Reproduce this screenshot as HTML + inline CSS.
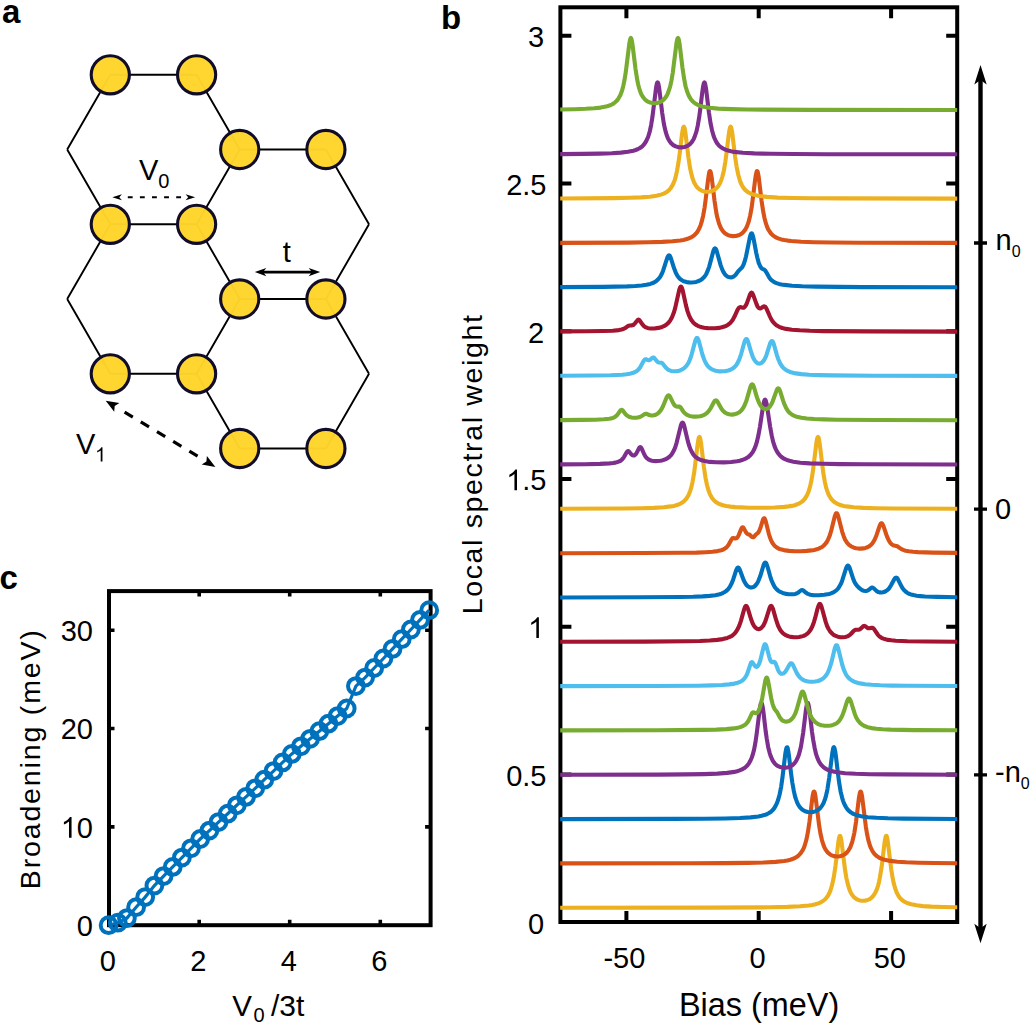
<!DOCTYPE html>
<html><head><meta charset="utf-8"><title>figure</title>
<style>html,body{margin:0;padding:0;background:#fff;}body{width:1031px;height:1024px;overflow:hidden;}svg{display:block;}</style>
</head><body>
<svg width="1031" height="1024" viewBox="0 0 1031 1024">
<rect width="100%" height="100%" fill="#fff"/>
<g font-family='"Liberation Sans", sans-serif'>
<path d="M110.3,74.8 L196.6,74.8 M196.6,74.8 L239.7,149.5 M110.3,74.8 L67.2,149.5 M67.2,149.5 L110.3,224.3 M239.7,149.5 L196.6,224.3 M239.7,149.5 L325.9,149.5 M325.9,149.5 L369.0,224.3 M369.0,224.3 L325.9,299.0 M110.3,224.3 L196.6,224.3 M196.6,224.3 L239.7,299.0 M110.3,224.3 L67.2,299.0 M67.2,299.0 L110.3,373.8 M239.7,299.0 L325.9,299.0 M239.7,299.0 L196.6,373.8 M325.9,299.0 L369.0,373.8 M369.0,373.8 L325.9,448.5 M110.3,373.8 L196.6,373.8 M196.6,373.8 L239.7,448.5 M239.7,448.5 L325.9,448.5" stroke="#000" stroke-width="1.9" fill="none"/>
<circle cx="110.3" cy="74.8" r="19.1" fill="#FFD52A" fill-opacity="0.975" stroke="#110d28" stroke-width="3.1"/>
<circle cx="196.6" cy="74.8" r="19.1" fill="#FFD52A" fill-opacity="0.975" stroke="#110d28" stroke-width="3.1"/>
<circle cx="239.7" cy="149.5" r="19.1" fill="#FFD52A" fill-opacity="0.975" stroke="#110d28" stroke-width="3.1"/>
<circle cx="325.9" cy="149.5" r="19.1" fill="#FFD52A" fill-opacity="0.975" stroke="#110d28" stroke-width="3.1"/>
<circle cx="110.3" cy="224.3" r="19.1" fill="#FFD52A" fill-opacity="0.975" stroke="#110d28" stroke-width="3.1"/>
<circle cx="196.6" cy="224.3" r="19.1" fill="#FFD52A" fill-opacity="0.975" stroke="#110d28" stroke-width="3.1"/>
<circle cx="239.7" cy="299.0" r="19.1" fill="#FFD52A" fill-opacity="0.975" stroke="#110d28" stroke-width="3.1"/>
<circle cx="325.9" cy="299.0" r="19.1" fill="#FFD52A" fill-opacity="0.975" stroke="#110d28" stroke-width="3.1"/>
<circle cx="110.3" cy="373.8" r="19.1" fill="#FFD52A" fill-opacity="0.975" stroke="#110d28" stroke-width="3.1"/>
<circle cx="196.6" cy="373.8" r="19.1" fill="#FFD52A" fill-opacity="0.975" stroke="#110d28" stroke-width="3.1"/>
<circle cx="239.7" cy="448.5" r="19.1" fill="#FFD52A" fill-opacity="0.975" stroke="#110d28" stroke-width="3.1"/>
<circle cx="325.9" cy="448.5" r="19.1" fill="#FFD52A" fill-opacity="0.975" stroke="#110d28" stroke-width="3.1"/>
<path d="M126.5,197.3 H183" stroke="#000" stroke-width="2.1" stroke-dasharray="4.85,7.25" stroke-dashoffset="-1.3" fill="none"/>
<path d="M112.3,197.3 L121.9,194.3 L119.3,197.3 L121.9,200.3 z" fill="#000"/>
<path d="M195.2,197.3 L185.6,200.3 L188.2,197.3 L185.6,194.3 z" fill="#000"/>
<path d="M262,272.1 H313" stroke="#000" stroke-width="2.9" fill="none"/>
<path d="M254.8,272.1 L266.3,267.9 L263.1,272.1 L266.3,276.3 z" fill="#000"/>
<path d="M320.2,272.1 L308.7,276.3 L311.9,272.1 L308.7,267.9 z" fill="#000"/>
<path d="M124.6,412.1 L197.6,456.1" stroke="#000" stroke-width="3.2" stroke-dasharray="9.6,9.3" fill="none"/>
<path d="M105.7,400.7 L119.4,403.1 L114.7,406.1 L114.2,411.7 z" fill="#000"/>
<path d="M215.4,466.9 L201.7,464.5 L206.4,461.5 L206.9,455.9 z" fill="#000"/>
<text x="2.0" y="23.0" font-size="33.0" font-weight="bold">a</text>
<text x="139.0" y="179.8" font-size="29.0" >V<tspan font-size="20" dy="8.4">0</tspan></text>
<text x="282.7" y="262.0" font-size="29.0" >t</text>
<text x="76.0" y="453.5" font-size="29.0" >V</text>
<path transform="translate(95.00,461.60) scale(20.000,-20.000)" d="M0.373,0 H0.285 V0.561 C0.264,0.541 0.236,0.521 0.201,0.500 C0.167,0.480 0.136,0.465 0.109,0.454 V0.539 C0.158,0.562 0.201,0.590 0.238,0.623 C0.275,0.656 0.301,0.687 0.317,0.716 H0.373 Z" fill="#000"/>
<rect x="560.4" y="7.3" width="396.8" height="914.7" fill="none" stroke="#000" stroke-width="4"/>
<path d="M560.4,774.5 h11 M957.2,774.5 h-11 M560.4,626.7 h11 M957.2,626.7 h-11 M560.4,479.0 h11 M957.2,479.0 h-11 M560.4,331.2 h11 M957.2,331.2 h-11 M560.4,183.5 h11 M957.2,183.5 h-11 M560.4,35.7 h11 M957.2,35.7 h-11 M626.4,922.0 v-11 M626.4,7.3 v11 M758.7,922.0 v-11 M758.7,7.3 v11 M891.1,922.0 v-11 M891.1,7.3 v11" stroke="#000" stroke-width="4" fill="none"/>
<path d="M560.2,907.8 707.3,907.6 769.6,907.3 787.4,906.9 799.9,906.3 808.9,905.5 812.4,904.9 815.5,904.2 818.3,903.4 820.8,902.3 823.0,901.0 824.9,899.5 826.6,897.6 828.1,895.5 829.4,893.0 830.6,890.0 832.3,884.2 833.9,876.5 835.5,865.8 838.4,841.7 839.2,837.4 839.6,836.2 840.0,835.8 840.2,836.0 840.6,836.9 841.4,840.7 845.1,870.2 846.4,878.1 847.8,884.1 849.5,889.6 850.4,891.8 851.3,893.6 852.4,895.2 853.6,896.7 854.9,897.9 856.2,898.9 857.6,899.6 858.9,900.1 860.3,900.5 861.8,900.7 863.4,900.7 864.8,900.6 866.3,900.4 867.8,899.9 869.1,899.4 870.3,898.7 872.4,896.9 874.2,894.6 875.8,891.8 877.0,888.9 878.1,885.6 879.0,881.9 879.9,877.4 881.7,866.4 884.7,841.6 885.5,837.3 885.9,836.2 886.3,835.8 886.6,836.0 886.9,836.9 887.7,840.9 891.3,869.7 892.5,877.2 893.7,883.1 895.2,888.5 896.9,893.0 898.7,896.3 899.8,897.8 901.0,899.1 902.3,900.3 903.8,901.3 905.3,902.2 907.1,903.0 911.2,904.3 916.5,905.3 922.9,906.1 931.4,906.6 942.5,907.0 957.2,907.3" fill="none" stroke="#EDB120" stroke-width="4.1" stroke-linejoin="round"/>
<path d="M560.2,863.4 690.9,863.3 724.7,863.1 747.6,862.9 764.0,862.5 775.6,861.9 784.1,861.0 787.4,860.4 790.3,859.7 793.1,858.8 795.5,857.6 797.5,856.4 799.3,854.8 800.9,852.9 802.4,850.7 803.6,848.4 804.8,845.3 806.5,839.3 807.9,832.2 809.5,821.5 812.4,797.4 813.2,793.1 813.6,791.9 814.0,791.5 814.3,791.6 814.7,792.5 815.5,796.4 819.2,825.9 820.5,833.8 822.0,840.3 823.7,845.6 824.7,848.0 825.8,849.9 827.0,851.6 828.3,853.0 829.8,854.2 831.2,855.1 833.9,856.1 836.8,856.5 838.4,856.5 839.8,856.3 842.6,855.5 845.0,854.1 847.0,852.4 848.7,850.1 850.3,847.2 851.3,844.6 852.4,841.3 853.3,837.6 854.3,833.1 856.0,822.1 859.0,797.3 859.8,793.0 860.2,791.9 860.6,791.5 860.9,791.7 861.3,792.6 862.1,796.5 865.8,826.3 867.1,834.3 868.4,840.4 870.1,846.1 871.1,848.4 872.0,850.2 873.2,852.2 874.4,853.8 875.7,855.2 877.2,856.4 878.7,857.4 880.6,858.4 882.6,859.2 884.8,859.8 890.3,860.9 897.3,861.7 906.3,862.3 918.3,862.7 934.6,863.0 957.2,863.2" fill="none" stroke="#D95319" stroke-width="4.1" stroke-linejoin="round"/>
<path d="M560.2,819.1 674.3,818.9 704.4,818.8 725.1,818.5 740.0,818.0 750.6,817.4 758.4,816.5 761.6,815.8 764.3,815.1 766.8,814.2 769.0,813.0 771.0,811.7 772.7,810.1 774.3,808.1 775.6,805.9 776.8,803.4 777.9,800.6 779.6,794.5 781.1,787.1 782.5,777.1 785.4,753.1 786.2,748.8 786.6,747.6 787.0,747.2 787.3,747.3 787.7,748.2 788.3,751.3 789.1,756.9 791.1,773.7 792.3,782.5 793.8,790.9 795.2,797.0 796.2,799.9 797.1,802.3 798.1,804.5 799.2,806.2 800.5,807.9 801.8,809.2 803.3,810.3 805.0,811.2 807.7,812.0 810.6,812.2 813.5,811.9 816.1,811.1 818.4,809.7 820.4,807.9 822.1,805.6 823.6,802.9 824.6,800.3 825.7,797.0 826.6,793.3 827.5,788.8 829.2,777.8 832.3,753.0 833.1,748.7 833.5,747.5 833.9,747.2 834.1,747.3 834.5,748.3 835.2,751.4 836.0,757.0 838.0,774.0 839.2,782.9 840.6,791.4 842.1,797.6 843.0,800.6 843.9,803.1 845.0,805.4 846.1,807.3 847.2,809.0 848.7,810.6 850.3,812.0 852.0,813.1 853.9,814.1 856.0,814.9 858.4,815.6 861.1,816.2 867.8,817.2 876.5,817.8 888.0,818.3 903.9,818.6 957.2,819.0" fill="none" stroke="#0072BD" stroke-width="4.1" stroke-linejoin="round"/>
<path d="M560.2,774.8 658.8,774.6 685.4,774.4 703.9,774.1 717.4,773.6 727.1,772.9 730.9,772.4 734.2,771.9 737.1,771.2 739.6,770.4 742.0,769.4 744.0,768.3 745.9,766.9 747.5,765.3 748.9,763.4 750.2,761.1 751.4,758.5 752.5,755.5 754.1,749.6 755.4,742.7 756.8,732.8 759.8,708.8 760.6,704.4 760.9,703.3 761.3,702.8 761.6,703.0 762.0,703.9 762.7,707.0 763.5,712.6 765.7,731.4 766.8,739.0 768.2,747.2 769.7,753.1 770.6,755.9 771.7,758.5 772.7,760.6 773.9,762.4 775.2,764.0 776.6,765.2 778.2,766.2 779.9,767.0 782.5,767.6 785.3,767.8 788.1,767.3 790.6,766.4 792.7,765.0 794.6,763.1 796.2,760.8 797.6,757.9 798.7,755.2 799.7,751.6 800.7,747.8 801.4,743.8 803.2,732.5 806.1,708.6 806.9,704.4 807.3,703.2 807.7,702.8 807.9,703.0 808.3,704.0 809.0,707.1 809.8,712.7 812.0,731.8 813.1,739.4 814.6,747.7 816.1,754.2 817.1,757.1 818.1,759.7 819.3,762.1 820.5,763.9 821.8,765.6 823.4,767.1 825.1,768.4 827.1,769.5 829.2,770.4 831.6,771.1 834.4,771.8 837.4,772.3 845.1,773.2 855.6,773.8 869.6,774.2 889.1,774.4 957.2,774.7" fill="none" stroke="#7E2F8E" stroke-width="4.1" stroke-linejoin="round"/>
<path d="M560.2,730.4 656.4,730.3 702.5,729.9 716.3,729.6 726.4,729.1 733.7,728.4 739.0,727.4 741.4,726.7 743.3,725.8 745.1,724.7 746.5,723.4 747.6,722.1 748.5,720.6 749.6,718.5 751.6,714.0 752.1,713.1 752.6,712.5 753.0,712.3 753.5,712.3 755.4,713.2 756.3,713.3 756.8,713.1 757.4,712.7 758.4,711.2 759.8,708.1 760.9,703.9 762.3,697.7 765.2,681.1 766.0,678.3 766.4,677.7 766.6,677.5 766.9,677.6 767.3,678.3 768.0,680.4 771.5,699.8 772.6,704.1 773.7,707.2 774.7,709.3 777.2,712.4 779.5,716.8 780.7,718.6 781.5,719.6 782.4,720.4 783.4,721.0 784.5,721.4 785.7,721.6 787.0,721.6 788.3,721.3 789.5,720.8 790.7,720.0 791.8,719.0 792.8,717.8 793.8,716.4 795.4,713.3 796.8,709.3 801.1,693.9 801.8,692.1 802.2,691.7 802.6,691.5 803.0,691.7 803.4,692.2 804.2,694.1 808.5,709.9 809.9,714.0 811.5,717.4 813.4,720.1 814.4,721.3 815.6,722.4 816.9,723.3 818.3,724.1 819.8,724.7 821.4,725.2 823.8,725.6 826.2,725.8 828.7,725.8 831.1,725.5 833.1,724.9 834.9,724.2 836.7,723.2 838.1,722.0 839.2,720.8 840.2,719.4 842.1,716.1 843.9,711.3 847.2,700.9 848.2,699.0 848.6,698.6 849.0,698.5 849.4,698.7 849.8,699.1 850.6,700.6 854.8,713.9 856.2,717.4 857.8,720.2 859.7,722.6 861.9,724.5 864.4,726.0 867.6,727.2 871.5,728.1 876.4,728.7 882.6,729.2 890.5,729.6 914.5,730.1 957.2,730.3" fill="none" stroke="#77AC30" stroke-width="4.1" stroke-linejoin="round"/>
<path d="M560.2,686.1 653.0,686.0 698.1,685.7 711.8,685.4 721.8,685.0 729.2,684.4 734.6,683.6 737.9,682.7 740.6,681.6 742.7,680.2 744.5,678.4 745.9,676.4 747.1,674.0 748.1,671.2 750.4,664.3 751.0,662.8 751.6,662.2 752.1,662.1 752.6,662.5 754.7,665.7 755.8,666.7 756.3,666.9 756.8,666.8 757.4,666.5 757.9,665.9 759.0,664.0 760.2,660.7 763.7,646.5 764.4,644.8 764.8,644.3 765.1,644.2 765.3,644.3 765.7,644.7 766.4,646.2 769.2,656.7 769.9,659.1 770.6,660.7 771.3,661.7 771.9,662.2 772.6,662.3 774.2,661.8 774.6,662.0 775.0,662.4 775.8,663.9 778.2,670.3 779.1,671.9 780.0,673.0 781.1,673.7 782.1,673.8 783.2,673.6 784.2,672.8 785.2,671.9 786.2,670.4 789.7,664.3 790.6,663.3 791.0,663.2 791.4,663.2 792.1,663.7 792.8,664.7 796.8,673.1 798.0,675.1 799.3,676.8 800.9,678.4 802.6,679.6 804.6,680.6 807.0,681.3 809.7,681.7 812.4,681.7 815.2,681.5 817.9,681.0 820.1,680.2 822.1,679.1 823.8,677.9 825.4,676.2 826.6,674.6 827.7,672.8 829.5,668.5 831.4,662.4 834.8,648.3 835.7,645.9 836.1,645.4 836.5,645.2 836.9,645.4 837.3,645.9 838.1,647.9 842.3,665.0 843.9,669.9 845.5,673.4 846.4,675.1 847.5,676.6 848.6,677.8 849.8,679.0 851.1,680.0 852.5,680.9 855.8,682.3 859.9,683.4 865.1,684.2 871.7,684.8 880.5,685.3 891.8,685.6 907.2,685.8 957.2,686.0" fill="none" stroke="#4DBEEE" stroke-width="4.1" stroke-linejoin="round"/>
<path d="M560.2,641.8 644.3,641.6 686.7,641.3 699.9,641.0 709.7,640.5 717.1,639.9 722.8,639.1 727.3,637.9 729.2,637.2 730.9,636.4 732.5,635.4 733.8,634.3 735.0,633.1 736.2,631.5 737.9,628.6 739.4,625.3 741.0,620.6 744.3,608.7 745.2,606.6 745.6,606.1 746.0,605.9 746.4,606.0 746.8,606.4 747.7,608.2 751.0,619.0 752.7,623.5 753.7,625.3 754.6,626.7 755.5,627.7 756.6,628.5 757.4,628.9 758.2,629.1 759.1,629.1 759.9,628.8 760.7,628.4 761.5,627.8 763.1,625.9 764.4,623.5 765.6,620.6 769.6,607.9 770.3,606.4 770.7,606.0 771.1,605.9 771.5,606.1 771.9,606.6 772.9,608.6 776.2,620.2 778.0,625.5 779.9,629.3 780.9,630.9 782.0,632.2 783.4,633.6 785.2,634.8 787.0,635.7 789.0,636.4 791.4,636.9 793.9,637.2 796.6,637.2 799.2,637.0 801.2,636.6 802.9,636.1 804.5,635.5 805.9,634.7 807.3,633.7 808.5,632.6 809.5,631.3 810.6,629.8 812.3,626.5 813.9,622.2 815.1,618.2 817.3,609.4 818.3,606.3 819.1,604.5 819.4,604.0 819.8,603.9 820.2,604.0 820.6,604.5 821.4,606.3 825.7,621.9 827.1,626.0 828.6,629.0 830.4,631.8 832.6,634.0 833.7,634.9 835.1,635.6 837.8,636.7 840.4,637.2 842.9,637.3 845.3,637.0 847.4,636.4 848.8,635.7 850.2,634.7 851.3,633.5 853.6,631.0 854.7,630.1 855.8,629.7 858.2,629.8 859.4,629.5 860.6,628.7 863.0,626.4 863.7,626.0 864.3,625.9 865.2,626.2 867.4,627.8 868.4,628.3 869.5,628.3 871.7,627.7 872.3,627.7 872.8,627.9 873.4,628.4 874.1,629.2 877.7,634.5 878.7,635.7 879.9,636.7 881.5,637.8 883.4,638.6 885.5,639.3 888.1,639.9 891.4,640.3 895.7,640.7 907.5,641.2 926.4,641.5 957.2,641.7" fill="none" stroke="#A2142F" stroke-width="4.1" stroke-linejoin="round"/>
<path d="M560.2,597.5 639.8,597.3 680.3,597.0 693.1,596.8 702.6,596.4 709.7,595.9 715.3,595.2 719.7,594.2 721.5,593.6 723.2,592.8 724.7,592.0 726.0,591.1 727.2,590.1 728.4,588.8 730.1,586.3 731.6,583.5 733.2,579.4 736.2,570.2 737.1,568.3 737.5,567.8 737.9,567.6 738.3,567.6 738.7,567.8 739.6,569.3 743.7,580.2 745.1,582.9 746.5,585.0 747.3,585.8 748.2,586.5 749.2,587.0 750.2,587.4 751.2,587.5 752.2,587.4 753.1,587.1 754.1,586.6 755.3,585.6 756.3,584.4 757.4,582.8 758.3,581.1 760.2,576.3 763.6,565.0 764.5,563.1 764.9,562.7 765.3,562.6 766.0,563.0 766.8,564.6 767.7,567.3 770.2,576.3 771.4,580.0 773.0,583.8 774.7,586.9 775.8,588.3 776.8,589.4 778.2,590.6 779.5,591.5 780.9,592.2 782.7,592.9 786.4,593.9 788.7,594.2 791.1,594.3 793.2,594.3 795.1,593.9 796.3,593.6 797.5,593.0 798.7,592.2 800.8,590.5 801.4,590.2 802.0,590.1 802.5,590.1 803.2,590.4 806.1,592.8 807.9,593.9 810.3,594.7 813.2,595.1 818.7,595.2 824.3,594.8 829.0,594.0 831.0,593.4 832.7,592.7 834.8,591.5 836.7,590.0 838.4,588.1 839.8,585.8 841.2,583.2 842.3,580.2 846.3,567.7 847.1,566.1 847.5,565.7 847.9,565.6 848.3,565.7 848.7,566.1 849.5,567.5 853.3,579.1 854.5,581.9 855.7,584.1 857.2,586.1 859.2,588.0 861.7,589.8 863.8,590.8 865.5,591.0 867.2,590.7 868.7,589.9 871.2,587.9 871.7,587.6 872.3,587.6 872.8,587.7 873.4,588.1 876.6,591.1 878.5,592.1 879.9,592.4 881.4,592.5 883.0,592.3 884.6,591.8 885.8,591.2 886.9,590.4 888.0,589.5 889.1,588.3 890.9,585.5 894.4,579.0 895.3,577.9 896.1,577.6 896.9,577.9 897.7,578.9 901.6,586.7 902.8,588.5 904.0,590.1 905.5,591.5 907.1,592.7 908.9,593.7 910.9,594.4 913.5,595.1 916.6,595.7 920.3,596.1 924.9,596.5 937.5,596.9 957.2,597.2" fill="none" stroke="#0072BD" stroke-width="4.1" stroke-linejoin="round"/>
<path d="M560.2,553.2 642.8,553.0 684.1,552.8 696.6,552.6 705.8,552.2 712.5,551.8 717.5,551.1 720.3,550.6 722.6,549.8 724.4,548.9 726.0,547.8 727.2,546.6 728.3,545.2 731.3,539.7 732.0,538.8 732.5,538.2 732.9,538.0 733.4,538.0 735.1,538.4 735.8,538.4 736.5,538.2 737.0,537.8 737.8,536.9 738.6,535.4 741.4,528.6 741.9,527.8 742.4,527.3 743.0,527.3 743.6,527.9 746.0,532.4 747.1,533.7 747.8,534.2 749.2,534.5 749.7,534.7 751.7,536.7 752.3,537.1 753.1,537.3 753.9,536.9 756.3,534.2 758.2,532.6 759.1,531.2 760.4,528.0 762.9,519.8 763.6,518.6 764.1,518.2 764.4,518.3 764.8,518.8 765.6,520.7 768.9,534.0 769.8,537.0 770.9,539.8 772.1,542.3 773.4,544.3 774.8,546.0 776.6,547.4 778.9,548.7 781.7,549.6 785.2,550.4 789.3,550.9 794.8,551.2 800.9,551.2 806.6,550.9 811.5,550.4 814.3,549.9 816.7,549.3 818.8,548.6 820.6,547.7 822.4,546.7 823.8,545.5 825.1,544.1 826.5,542.4 828.2,539.3 829.8,535.4 831.5,529.6 834.8,516.3 835.7,513.9 836.1,513.4 836.5,513.2 836.9,513.4 837.3,513.9 838.1,515.8 842.2,531.8 843.7,536.2 845.1,539.6 847.0,542.6 849.0,544.8 850.2,545.7 851.3,546.5 854.0,547.7 856.2,548.2 858.6,548.6 861.0,548.6 863.4,548.4 865.5,547.9 867.4,547.3 869.1,546.4 870.7,545.2 871.7,544.1 872.8,542.8 874.6,539.7 876.5,535.2 879.8,525.5 880.7,523.7 881.1,523.4 881.5,523.2 881.9,523.4 882.3,523.8 883.1,525.2 884.0,527.6 886.3,534.5 887.5,537.7 888.9,540.7 890.5,543.1 891.7,544.3 892.9,545.1 894.1,545.6 896.3,546.0 897.3,546.3 901.0,548.9 903.1,549.9 905.6,550.7 908.8,551.3 912.9,551.8 918.0,552.1 933.0,552.6 957.2,552.9" fill="none" stroke="#D95319" stroke-width="4.1" stroke-linejoin="round"/>
<path d="M560.2,508.8 623.6,508.5 641.4,508.3 654.1,507.9 663.7,507.3 670.8,506.4 673.7,505.9 676.2,505.3 678.5,504.5 680.5,503.6 682.3,502.5 684.1,501.2 685.5,499.7 686.8,498.0 688.0,496.0 689.1,493.8 690.1,491.1 691.1,488.2 692.5,482.1 694.0,473.7 695.0,466.0 697.3,446.8 698.1,441.2 698.7,438.0 699.1,437.1 699.4,436.9 699.8,437.3 700.2,438.5 701.0,442.8 703.9,467.0 705.5,477.8 707.0,485.0 708.7,491.1 709.9,494.1 711.1,496.4 712.5,498.7 714.1,500.5 716.0,502.1 717.9,503.3 720.2,504.3 722.8,505.2 726.3,506.0 730.4,506.6 735.3,507.1 741.2,507.4 748.9,507.7 757.8,507.8 766.8,507.7 774.7,507.5 784.5,506.9 788.5,506.4 791.8,505.9 794.7,505.2 797.2,504.3 799.3,503.4 801.3,502.1 802.8,501.0 804.1,499.6 805.3,498.1 806.5,496.2 807.5,494.1 808.5,491.8 810.2,486.1 811.5,480.0 812.8,471.9 816.5,442.0 817.3,438.0 817.7,437.1 818.0,436.9 818.3,437.1 818.7,438.0 819.3,441.2 820.1,446.8 822.4,466.0 823.4,473.7 824.9,482.1 826.3,488.2 827.3,491.1 828.3,493.8 829.4,496.0 830.6,498.0 831.9,499.7 833.3,501.2 835.1,502.5 836.9,503.6 838.9,504.5 841.2,505.3 843.7,505.9 846.6,506.4 853.7,507.3 863.3,507.9 876.0,508.3 893.8,508.5 957.2,508.8" fill="none" stroke="#EDB120" stroke-width="4.1" stroke-linejoin="round"/>
<path d="M560.2,464.4 584.9,464.2 600.1,463.9 609.5,463.4 612.9,463.0 615.5,462.6 617.5,462.0 619.2,461.4 620.7,460.6 622.0,459.5 623.0,458.4 624.0,457.1 626.7,452.2 627.3,451.5 627.8,451.1 628.3,451.1 629.0,451.5 631.2,454.2 632.4,455.2 633.1,455.4 633.6,455.5 634.3,455.4 634.8,455.1 635.7,454.2 636.5,453.1 639.3,447.8 639.8,447.3 640.2,447.1 640.9,447.4 641.6,448.4 644.1,454.0 645.5,456.6 647.1,458.4 649.0,459.7 650.3,460.3 651.9,460.7 653.7,461.0 655.7,461.1 657.8,461.0 660.1,460.8 662.2,460.4 664.1,459.8 665.7,459.2 667.1,458.4 668.4,457.6 669.6,456.6 670.8,455.4 671.9,454.0 673.7,450.8 675.2,447.4 676.6,442.8 680.9,425.3 681.7,423.3 682.1,422.8 682.5,422.6 682.9,422.8 683.3,423.3 684.2,425.8 687.9,441.4 689.1,445.5 690.4,449.1 691.9,452.1 693.6,454.8 695.4,456.8 697.6,458.4 699.0,459.2 700.7,460.0 704.7,461.1 709.7,461.9 716.0,462.3 723.8,462.4 731.2,462.0 737.1,461.3 739.8,460.7 742.0,460.1 744.4,459.2 746.5,458.1 748.4,456.9 750.1,455.4 751.6,453.7 752.9,451.8 754.1,449.6 755.3,446.8 757.0,441.5 758.4,435.3 760.0,426.5 763.3,404.6 764.3,400.7 764.7,399.9 765.1,399.6 765.4,399.9 765.8,400.7 766.8,404.6 770.1,426.6 771.7,435.4 773.1,441.6 774.7,446.6 775.9,449.4 777.1,451.7 778.4,453.7 779.9,455.4 781.6,457.0 783.4,458.3 785.6,459.4 787.9,460.3 790.5,461.1 793.4,461.7 800.4,462.7 809.8,463.4 822.8,463.8 840.2,464.1 865.2,464.3 957.2,464.5" fill="none" stroke="#7E2F8E" stroke-width="4.1" stroke-linejoin="round"/>
<path d="M560.2,420.1 582.1,419.9 595.6,419.7 604.0,419.3 609.4,418.8 612.9,417.9 614.3,417.3 615.5,416.5 616.6,415.6 617.5,414.6 620.4,410.5 621.1,409.9 621.6,409.8 622.1,409.9 622.8,410.5 625.4,414.0 627.0,415.6 629.0,416.8 631.5,417.5 633.4,417.8 635.3,417.8 637.2,417.6 638.9,417.3 641.2,416.4 644.5,414.2 645.7,413.8 646.7,413.9 649.2,415.0 650.6,415.4 652.2,415.5 653.9,415.3 655.7,414.7 657.5,413.7 659.0,412.4 660.5,410.7 661.8,408.6 663.0,406.3 666.8,397.0 667.8,395.7 668.2,395.4 668.6,395.3 669.2,395.6 670.0,396.6 673.2,403.1 674.1,404.6 674.9,405.6 675.6,406.1 676.4,406.5 677.2,406.6 678.9,406.5 679.4,406.6 680.0,406.9 681.0,408.0 683.5,411.8 685.0,413.4 687.0,414.9 689.5,415.9 691.3,416.3 693.5,416.6 695.7,416.6 698.0,416.5 700.1,416.2 701.9,415.7 703.6,415.1 705.1,414.4 707.1,412.9 708.9,410.9 710.8,408.0 714.1,401.7 715.0,400.6 715.8,400.3 716.6,400.6 717.4,401.4 721.6,408.9 723.2,411.0 724.8,412.4 726.8,413.6 729.1,414.3 731.6,414.6 734.2,414.4 737.0,413.5 739.4,412.2 741.5,410.2 743.3,407.7 744.8,404.8 746.3,401.1 750.5,386.6 751.3,384.9 751.7,384.5 752.1,384.3 752.5,384.4 752.9,384.8 753.8,386.7 757.1,397.8 759.0,402.7 759.9,404.5 760.8,405.9 761.9,407.2 762.9,408.1 763.7,408.5 764.7,408.9 765.6,409.0 766.5,408.9 767.4,408.5 768.2,408.1 769.2,407.3 769.9,406.4 771.4,404.1 772.7,401.3 776.7,390.1 777.6,388.6 778.0,388.3 778.4,388.3 778.8,388.6 779.2,389.1 780.1,391.1 783.2,400.9 784.8,405.2 786.2,408.2 787.9,410.9 789.1,412.3 790.3,413.4 791.7,414.4 793.2,415.3 795.0,416.1 796.8,416.7 801.3,417.8 806.9,418.5 814.2,419.0 823.8,419.4 836.7,419.7 877.4,420.0 957.2,420.2" fill="none" stroke="#77AC30" stroke-width="4.1" stroke-linejoin="round"/>
<path d="M560.2,375.7 591.5,375.5 610.6,375.2 622.4,374.7 626.5,374.3 629.8,373.7 632.4,373.1 634.6,372.3 636.4,371.3 638.0,370.0 639.2,368.7 640.2,367.3 643.6,361.1 644.2,360.1 644.7,359.6 645.3,359.3 645.8,359.2 648.1,360.2 649.1,360.3 650.2,359.7 652.3,357.8 653.1,357.5 653.6,357.5 654.3,358.0 656.7,361.0 657.8,362.1 658.9,362.5 661.2,362.7 662.2,363.2 663.1,364.2 666.3,368.1 667.6,369.3 669.0,370.1 671.1,370.9 673.6,371.3 676.4,371.2 679.2,370.7 680.6,370.2 682.1,369.5 684.5,367.9 686.4,365.9 688.3,363.1 689.7,360.0 691.2,356.0 695.4,340.4 696.2,338.6 696.6,338.1 697.0,338.0 697.4,338.1 697.8,338.6 698.6,340.4 699.5,343.5 701.8,352.3 703.0,356.3 704.6,360.6 706.3,363.9 707.3,365.4 708.4,366.7 709.6,367.8 710.9,368.7 712.4,369.6 714.0,370.2 715.7,370.7 717.7,371.1 720.3,371.4 723.1,371.3 725.7,371.1 728.3,370.5 730.4,369.8 732.2,368.8 734.0,367.5 735.4,366.1 736.5,364.8 737.5,363.1 739.4,359.2 741.2,353.8 744.5,341.8 745.5,339.6 745.9,339.2 746.3,339.0 746.7,339.1 747.1,339.5 748.0,341.4 751.3,352.7 753.0,357.3 753.9,359.2 754.9,360.7 755.8,361.8 756.8,362.7 757.6,363.2 758.6,363.5 759.5,363.6 760.4,363.4 761.3,363.0 762.1,362.4 763.7,360.6 765.1,358.3 766.4,355.2 770.3,342.9 771.3,341.3 771.7,341.0 772.1,341.0 772.5,341.3 772.9,341.9 773.8,344.1 776.8,354.8 778.4,359.5 780.0,363.1 781.7,365.9 782.9,367.4 784.2,368.7 785.6,369.7 787.2,370.7 789.0,371.5 791.0,372.2 795.8,373.4 801.4,374.1 809.0,374.7 818.9,375.1 832.3,375.4 874.5,375.7 957.2,375.9" fill="none" stroke="#4DBEEE" stroke-width="4.1" stroke-linejoin="round"/>
<path d="M560.2,331.4 586.2,331.3 602.7,331.0 612.7,330.7 618.9,330.1 621.7,329.5 623.8,328.8 625.3,328.0 627.8,326.2 628.9,325.7 629.8,325.5 632.0,325.4 633.2,325.0 634.0,324.4 634.8,323.6 637.5,320.2 638.0,319.8 638.4,319.6 639.1,319.8 639.7,320.5 642.2,324.2 643.7,325.9 645.3,327.1 647.3,327.9 648.7,328.3 650.4,328.5 654.3,328.5 658.4,327.9 662.1,326.9 663.8,326.2 665.3,325.4 666.6,324.5 667.9,323.3 669.1,322.0 670.2,320.6 672.0,317.3 673.6,313.3 675.1,308.4 679.3,289.6 680.1,287.4 680.5,286.8 680.9,286.6 681.3,286.8 681.7,287.4 682.6,290.0 685.9,305.1 687.5,311.1 689.0,315.3 690.7,318.9 691.9,320.8 693.2,322.4 694.5,323.7 696.1,324.9 697.8,325.8 699.8,326.6 701.9,327.3 704.3,327.7 707.7,328.1 711.5,328.3 715.3,328.2 718.9,327.9 721.8,327.3 724.4,326.6 726.7,325.6 728.7,324.3 730.8,322.4 732.8,319.7 734.5,316.6 737.5,309.9 738.2,308.8 738.8,307.9 739.5,307.4 740.3,307.1 742.7,307.7 743.6,307.7 744.5,307.1 745.3,306.2 746.1,304.9 746.9,303.1 750.1,294.3 750.9,293.0 751.6,292.6 752.2,293.0 753.0,294.4 756.5,304.1 757.5,306.4 758.4,307.7 759.4,308.3 760.3,308.5 761.2,308.1 763.1,306.8 763.7,306.4 764.4,306.4 765.1,306.6 765.8,307.5 766.6,308.9 769.7,316.0 771.1,319.0 772.6,321.4 774.2,323.3 776.4,325.3 779.1,326.8 782.3,328.0 786.1,328.9 791.9,329.7 799.7,330.3 809.9,330.8 823.8,331.1 868.3,331.4 957.2,331.6" fill="none" stroke="#A2142F" stroke-width="4.1" stroke-linejoin="round"/>
<path d="M560.2,287.1 603.2,286.9 627.3,286.4 635.3,286.0 641.6,285.5 646.5,284.8 650.3,283.9 653.5,282.8 656.0,281.3 658.2,279.3 660.1,277.0 661.7,274.1 663.1,270.7 667.4,257.4 668.2,255.9 668.6,255.5 669.0,255.3 669.4,255.4 669.8,255.8 670.7,257.7 674.0,268.1 675.8,272.8 677.7,276.2 679.7,278.6 681.1,279.8 682.9,280.8 684.7,281.6 686.7,282.1 689.1,282.4 691.5,282.5 693.8,282.3 696.2,281.9 699.3,280.8 700.6,280.1 701.9,279.2 703.1,278.1 704.2,277.0 705.2,275.6 706.2,274.1 707.7,270.7 709.2,266.6 713.4,250.9 714.2,249.0 714.6,248.5 715.0,248.3 715.4,248.5 715.8,248.9 716.6,250.7 720.7,265.4 722.2,269.4 723.6,272.3 724.6,273.7 725.5,274.9 726.5,275.8 727.6,276.6 728.7,277.0 729.8,277.3 731.0,277.4 732.2,277.2 734.0,276.3 735.5,275.0 738.8,270.6 741.9,267.5 742.7,266.3 743.5,264.7 744.8,261.0 746.0,256.5 750.0,236.7 750.8,234.2 751.2,233.5 751.6,233.3 751.8,233.4 752.2,234.0 753.0,236.2 753.9,240.4 756.3,253.1 757.4,258.0 758.8,263.1 760.3,266.5 761.1,267.7 761.9,268.5 762.5,268.9 764.3,269.7 765.3,270.6 766.2,272.1 769.0,277.1 770.2,278.8 771.4,280.1 772.9,281.2 774.6,282.3 776.6,283.1 778.9,283.9 781.5,284.4 784.5,284.9 792.1,285.7 802.2,286.3 816.3,286.6 862.1,287.1 957.2,287.2" fill="none" stroke="#0072BD" stroke-width="4.1" stroke-linejoin="round"/>
<path d="M560.2,242.9 628.6,242.6 648.1,242.3 662.1,241.9 672.5,241.3 680.2,240.5 683.3,240.0 686.0,239.3 688.4,238.5 690.5,237.7 692.5,236.5 694.2,235.3 695.8,233.8 697.2,232.1 698.3,230.3 699.5,227.9 700.6,225.2 701.5,222.4 703.1,215.9 704.6,207.6 705.6,199.9 707.9,180.9 708.7,175.2 709.3,172.1 709.7,171.2 710.0,171.0 710.4,171.4 710.8,172.5 711.6,176.8 714.5,200.6 716.2,212.0 717.1,216.6 718.1,220.3 719.1,223.8 720.2,226.5 721.6,229.3 723.4,231.7 725.2,233.4 727.5,234.8 730.1,235.8 732.9,236.1 735.8,236.0 738.5,235.3 740.2,234.5 741.8,233.5 743.2,232.2 744.5,230.7 745.7,228.8 746.8,226.8 747.8,224.1 748.8,221.3 750.2,215.4 751.7,207.2 752.7,199.6 755.0,180.7 755.8,175.1 756.5,172.1 756.8,171.2 757.1,171.0 757.5,171.4 757.9,172.6 758.7,176.9 761.6,201.0 763.1,210.9 764.4,217.7 766.0,223.7 767.0,226.6 768.2,229.3 769.6,231.5 771.0,233.5 772.6,235.1 774.4,236.5 776.4,237.6 778.8,238.6 781.3,239.4 784.2,240.0 787.6,240.6 791.4,241.0 801.1,241.7 814.4,242.2 832.8,242.5 859.3,242.7 957.2,242.9" fill="none" stroke="#D95319" stroke-width="4.1" stroke-linejoin="round"/>
<path d="M560.2,198.5 613.8,198.1 629.7,197.8 641.2,197.4 649.9,196.7 656.5,195.7 659.3,195.1 661.7,194.4 663.8,193.6 665.7,192.6 667.4,191.5 669.0,190.1 670.4,188.5 671.6,186.8 672.7,184.9 673.7,182.6 674.7,180.2 675.6,177.1 677.0,170.9 678.5,162.4 679.7,153.5 681.7,136.6 682.5,130.9 683.1,127.8 683.5,126.9 683.8,126.7 684.2,127.1 684.6,128.2 685.4,132.5 688.4,157.3 690.1,168.3 691.1,172.8 692.0,176.5 693.1,179.8 694.1,182.4 695.6,185.1 697.3,187.5 699.3,189.3 701.5,190.6 704.2,191.5 707.1,191.8 710.0,191.5 712.6,190.7 714.4,189.8 715.8,188.7 717.1,187.5 718.5,185.8 719.5,184.0 720.6,181.8 721.5,179.4 722.4,176.5 723.9,170.4 725.3,162.0 726.5,153.2 728.5,136.4 729.3,130.8 730.0,127.7 730.4,126.8 730.6,126.7 731.0,127.1 731.4,128.3 732.2,132.6 735.1,156.7 736.6,166.6 738.1,174.0 739.8,180.2 740.8,183.0 742.0,185.5 743.3,187.6 744.9,189.6 746.7,191.2 748.6,192.5 750.9,193.7 753.4,194.6 756.1,195.3 759.2,196.0 767.0,196.9 777.6,197.6 792.6,198.0 813.2,198.3 843.3,198.4 957.2,198.6" fill="none" stroke="#EDB120" stroke-width="4.1" stroke-linejoin="round"/>
<path d="M560.2,154.1 583.1,153.9 599.6,153.6 611.8,153.2 620.9,152.6 627.9,151.8 633.4,150.7 635.6,150.0 637.6,149.3 639.5,148.3 641.0,147.3 642.5,146.1 643.8,144.7 645.0,143.1 646.2,141.1 647.1,139.2 648.1,137.0 649.8,131.3 651.1,125.2 652.4,117.2 656.1,87.4 656.9,83.5 657.3,82.5 657.6,82.4 658.0,82.7 658.4,83.9 659.2,88.2 662.2,113.0 663.9,124.0 664.9,128.5 665.8,132.2 666.8,135.5 668.0,138.4 669.6,141.2 671.3,143.4 673.3,145.1 675.7,146.4 678.5,147.2 681.5,147.4 684.5,147.0 687.1,146.1 688.6,145.2 690.0,144.1 691.3,142.7 692.5,141.0 693.6,139.2 694.6,136.9 696.4,131.7 697.8,125.4 699.1,117.7 700.3,108.9 702.3,92.1 703.1,86.5 703.8,83.4 704.2,82.5 704.4,82.4 704.8,82.8 705.2,84.0 706.0,88.3 708.9,112.3 710.5,123.0 712.0,130.2 713.7,136.2 714.9,139.2 716.1,141.6 717.5,143.8 719.1,145.7 721.0,147.3 723.0,148.5 725.3,149.6 728.1,150.6 731.0,151.3 734.3,151.9 742.8,152.8 754.3,153.4 770.7,153.8 793.6,154.0 827.3,154.2 957.2,154.3" fill="none" stroke="#7E2F8E" stroke-width="4.1" stroke-linejoin="round"/>
<path d="M560.2,109.5 574.7,109.2 585.7,108.8 594.2,108.3 600.7,107.6 606.0,106.6 610.1,105.3 611.8,104.5 613.4,103.6 614.8,102.5 616.2,101.3 617.4,100.0 618.4,98.6 620.3,95.2 622.0,90.7 623.4,85.4 624.6,79.5 625.8,71.9 629.4,43.1 630.2,39.2 630.6,38.2 630.8,38.0 631.2,38.4 631.6,39.6 632.4,43.8 635.5,68.7 637.2,79.7 638.1,84.2 639.2,88.3 640.2,91.5 641.4,94.4 643.2,97.3 645.0,99.5 646.1,100.5 647.3,101.3 649.8,102.5 652.7,103.1 654.3,103.2 655.9,103.1 657.5,102.9 658.9,102.5 660.2,102.0 661.6,101.3 663.0,100.2 664.3,99.0 665.5,97.5 666.6,95.9 667.5,94.1 668.4,91.9 670.2,86.4 671.5,80.4 672.8,72.5 676.5,43.0 677.3,39.1 677.7,38.2 678.0,38.0 678.4,38.5 678.8,39.6 679.6,44.0 682.5,68.0 684.1,78.7 685.6,86.5 687.4,92.3 688.6,95.2 689.9,97.7 691.3,99.9 693.1,101.7 694.9,103.2 697.2,104.6 699.7,105.6 702.5,106.5 705.5,107.1 709.1,107.7 718.1,108.6 730.5,109.1 748.2,109.5 810.4,109.9 957.2,110.0" fill="none" stroke="#77AC30" stroke-width="4.1" stroke-linejoin="round"/>
<text x="528.07" y="933.60" font-size="29.0">0</text>
<text x="506.18" y="785.85" font-size="29.0">0.5</text>
<path transform="translate(528.07,638.10) scale(29.000,-29.000)" d="M0.373,0 H0.285 V0.561 C0.264,0.541 0.236,0.521 0.201,0.500 C0.167,0.480 0.136,0.465 0.109,0.454 V0.539 C0.158,0.562 0.201,0.590 0.238,0.623 C0.275,0.656 0.301,0.687 0.317,0.716 H0.373 Z" fill="#000"/>
<path transform="translate(506.18,490.35) scale(29.000,-29.000)" d="M0.373,0 H0.285 V0.561 C0.264,0.541 0.236,0.521 0.201,0.500 C0.167,0.480 0.136,0.465 0.109,0.454 V0.539 C0.158,0.562 0.201,0.590 0.238,0.623 C0.275,0.656 0.301,0.687 0.317,0.716 H0.373 Z" fill="#000"/><text x="522.31" y="490.35" font-size="29.0">.5</text>
<text x="528.07" y="342.60" font-size="29.0">2</text>
<text x="506.18" y="194.85" font-size="29.0">2.5</text>
<text x="528.07" y="47.10" font-size="29.0">3</text>
<text x="603.39" y="968.30" font-size="29.0">-50</text>
<text x="749.44" y="968.30" font-size="29.0">0</text>
<text x="873.72" y="968.30" font-size="29.0">50</text>
<text x="679.0" y="1016.0" font-size="32.4">Bias (meV)</text>
<text transform="translate(482.2,614.3) rotate(-90)" font-size="28.5" letter-spacing="1.65">Local spectral weight</text>
<text x="441.0" y="29.0" font-size="33.0" font-weight="bold">b</text>
<path d="M980.5,78 V930" stroke="#000" stroke-width="4.4" fill="none"/>
<path d="M980.5,64.9 L986.7,84.4 L980.5,79.9 L974.3,84.4 z" fill="#000"/>
<path d="M980.5,943.3 L974.3,923.8 L980.5,928.3 L986.7,923.8 z" fill="#000"/>
<path d="M974.0,243.0 h13 M974.0,509.1 h13 M974.0,774.9 h13" stroke="#000" stroke-width="3.4" fill="none"/>
<text x="995.5" y="250.2" font-size="29">n<tspan font-size="16" dy="6.5">0</tspan></text>
<text x="995.0" y="519.4" font-size="29">0</text>
<text x="995.0" y="782" font-size="29">-n<tspan font-size="16" dy="6.8">0</tspan></text>
<rect x="109.0" y="591.1" width="321.6" height="334.1" fill="none" stroke="#000" stroke-width="4"/>
<path d="M199.2,925.2 v-5.5 M199.2,591.1 v5.5 M289.7,925.2 v-5.5 M289.7,591.1 v5.5 M380.3,925.2 v-5.5 M380.3,591.1 v5.5 M109.0,826.9 h5.5 M430.6,826.9 h-5.5 M109.0,728.5 h5.5 M430.6,728.5 h-5.5 M109.0,630.2 h5.5 M430.6,630.2 h-5.5" stroke="#000" stroke-width="3.6" fill="none"/>
<path d="M108.6,925.2 117.8,922.7 126.9,918.1 136.1,907.2 145.2,897.1 154.4,885.6 163.6,876.1 172.7,866.9 181.9,857.6 191.0,848.3 200.2,839.0 209.4,830.6 218.5,822.1 227.7,813.7 236.8,805.3 246.0,796.9 255.2,788.3 264.3,779.7 273.5,771.1 282.6,762.4 291.8,753.9 300.9,746.3 310.1,738.8 319.3,731.2 328.4,723.7 337.6,716.1 346.7,708.5 355.9,686.1 365.1,677.6 374.2,668.0 383.4,658.5 392.5,648.9 401.7,639.2 410.9,629.5 420.0,619.9 429.2,610.2" stroke="#0072BD" stroke-width="3.2" fill="none"/>
<circle cx="108.6" cy="925.2" r="7.9" fill="none" stroke="#0072BD" stroke-width="4.0"/>
<circle cx="117.8" cy="922.7" r="7.9" fill="none" stroke="#0072BD" stroke-width="4.0"/>
<circle cx="126.9" cy="918.1" r="7.9" fill="none" stroke="#0072BD" stroke-width="4.0"/>
<circle cx="136.1" cy="907.2" r="7.9" fill="none" stroke="#0072BD" stroke-width="4.0"/>
<circle cx="145.2" cy="897.1" r="7.9" fill="none" stroke="#0072BD" stroke-width="4.0"/>
<circle cx="154.4" cy="885.6" r="7.9" fill="none" stroke="#0072BD" stroke-width="4.0"/>
<circle cx="163.6" cy="876.1" r="7.9" fill="none" stroke="#0072BD" stroke-width="4.0"/>
<circle cx="172.7" cy="866.9" r="7.9" fill="none" stroke="#0072BD" stroke-width="4.0"/>
<circle cx="181.9" cy="857.6" r="7.9" fill="none" stroke="#0072BD" stroke-width="4.0"/>
<circle cx="191.0" cy="848.3" r="7.9" fill="none" stroke="#0072BD" stroke-width="4.0"/>
<circle cx="200.2" cy="839.0" r="7.9" fill="none" stroke="#0072BD" stroke-width="4.0"/>
<circle cx="209.4" cy="830.6" r="7.9" fill="none" stroke="#0072BD" stroke-width="4.0"/>
<circle cx="218.5" cy="822.1" r="7.9" fill="none" stroke="#0072BD" stroke-width="4.0"/>
<circle cx="227.7" cy="813.7" r="7.9" fill="none" stroke="#0072BD" stroke-width="4.0"/>
<circle cx="236.8" cy="805.3" r="7.9" fill="none" stroke="#0072BD" stroke-width="4.0"/>
<circle cx="246.0" cy="796.9" r="7.9" fill="none" stroke="#0072BD" stroke-width="4.0"/>
<circle cx="255.2" cy="788.3" r="7.9" fill="none" stroke="#0072BD" stroke-width="4.0"/>
<circle cx="264.3" cy="779.7" r="7.9" fill="none" stroke="#0072BD" stroke-width="4.0"/>
<circle cx="273.5" cy="771.1" r="7.9" fill="none" stroke="#0072BD" stroke-width="4.0"/>
<circle cx="282.6" cy="762.4" r="7.9" fill="none" stroke="#0072BD" stroke-width="4.0"/>
<circle cx="291.8" cy="753.9" r="7.9" fill="none" stroke="#0072BD" stroke-width="4.0"/>
<circle cx="300.9" cy="746.3" r="7.9" fill="none" stroke="#0072BD" stroke-width="4.0"/>
<circle cx="310.1" cy="738.8" r="7.9" fill="none" stroke="#0072BD" stroke-width="4.0"/>
<circle cx="319.3" cy="731.2" r="7.9" fill="none" stroke="#0072BD" stroke-width="4.0"/>
<circle cx="328.4" cy="723.7" r="7.9" fill="none" stroke="#0072BD" stroke-width="4.0"/>
<circle cx="337.6" cy="716.1" r="7.9" fill="none" stroke="#0072BD" stroke-width="4.0"/>
<circle cx="346.7" cy="708.5" r="7.9" fill="none" stroke="#0072BD" stroke-width="4.0"/>
<circle cx="355.9" cy="686.1" r="7.9" fill="none" stroke="#0072BD" stroke-width="4.0"/>
<circle cx="365.1" cy="677.6" r="7.9" fill="none" stroke="#0072BD" stroke-width="4.0"/>
<circle cx="374.2" cy="668.0" r="7.9" fill="none" stroke="#0072BD" stroke-width="4.0"/>
<circle cx="383.4" cy="658.5" r="7.9" fill="none" stroke="#0072BD" stroke-width="4.0"/>
<circle cx="392.5" cy="648.9" r="7.9" fill="none" stroke="#0072BD" stroke-width="4.0"/>
<circle cx="401.7" cy="639.2" r="7.9" fill="none" stroke="#0072BD" stroke-width="4.0"/>
<circle cx="410.9" cy="629.5" r="7.9" fill="none" stroke="#0072BD" stroke-width="4.0"/>
<circle cx="420.0" cy="619.9" r="7.9" fill="none" stroke="#0072BD" stroke-width="4.0"/>
<circle cx="429.2" cy="610.2" r="7.9" fill="none" stroke="#0072BD" stroke-width="4.0"/>
<text x="99.64" y="970.60" font-size="29.0">0</text>
<text x="190.20" y="970.60" font-size="29.0">2</text>
<text x="280.76" y="970.60" font-size="29.0">4</text>
<text x="371.32" y="970.60" font-size="29.0">6</text>
<text x="76.87" y="936.10" font-size="29.0">0</text>
<path transform="translate(60.74,837.75) scale(29.000,-29.000)" d="M0.373,0 H0.285 V0.561 C0.264,0.541 0.236,0.521 0.201,0.500 C0.167,0.480 0.136,0.465 0.109,0.454 V0.539 C0.158,0.562 0.201,0.590 0.238,0.623 C0.275,0.656 0.301,0.687 0.317,0.716 H0.373 Z" fill="#000"/><text x="76.87" y="837.75" font-size="29.0">0</text>
<text x="60.74" y="739.40" font-size="29.0">20</text>
<text x="60.74" y="641.05" font-size="29.0">30</text>
<text transform="translate(40.2,889.2) rotate(-90)" font-size="28.5" letter-spacing="1.85">Broadening (meV)</text>
<text x="232.3" y="1015.7" font-size="29.5">V</text>
<text x="253.5" y="1021.6" font-size="20">0</text>
<text x="271.0" y="1015.7" font-size="30">/3t</text>
<text x="-0.5" y="588.8" font-size="33.0" font-weight="bold">c</text>
</g></svg>
</body></html>
